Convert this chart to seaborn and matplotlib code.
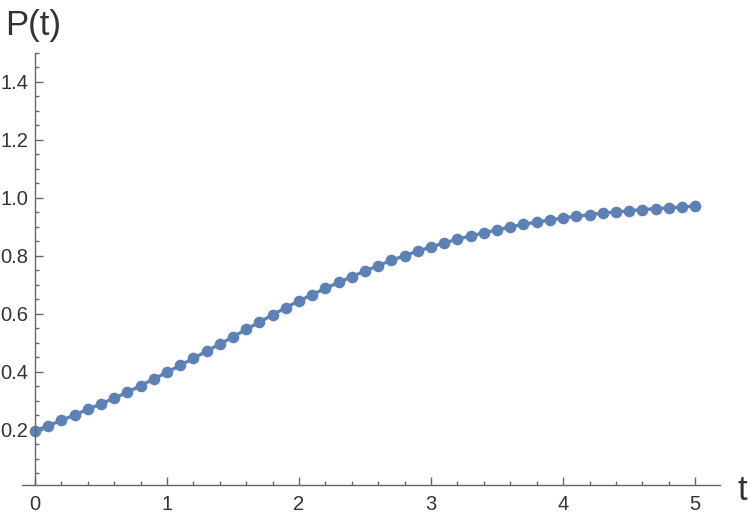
import matplotlib
matplotlib.use("Agg")
import matplotlib.pyplot as plt
from matplotlib.ticker import MultipleLocator
import seaborn as sns
import pandas as pd

# values
t = [0.0, 0.1, 0.2, 0.3, 0.4, 0.5, 0.6, 0.7, 0.8, 0.9,
     1.0, 1.1, 1.2, 1.3, 1.4, 1.5, 1.6, 1.7, 1.8, 1.9,
     2.0, 2.1, 2.2, 2.3, 2.4, 2.5, 2.6, 2.7, 2.8, 2.9,
     3.0, 3.1, 3.2, 3.3, 3.4, 3.5, 3.6, 3.7, 3.8, 3.9,
     4.0, 4.1, 4.2, 4.3, 4.4, 4.5, 4.6, 4.7, 4.8, 4.9, 5.0]
p = [0.197, 0.215, 0.233, 0.252, 0.271, 0.290, 0.310, 0.330, 0.353, 0.376,
     0.399, 0.423, 0.447, 0.472, 0.496, 0.521, 0.547, 0.572, 0.597, 0.622,
     0.645, 0.667, 0.688, 0.709, 0.729, 0.748, 0.767, 0.785, 0.801, 0.817,
     0.831, 0.845, 0.858, 0.869, 0.880, 0.890, 0.900, 0.909, 0.917, 0.924,
     0.931, 0.937, 0.942, 0.948, 0.952, 0.956, 0.960, 0.963, 0.966, 0.969, 0.972]
yticks = [0.2, 0.4, 0.6, 0.8, 1.0, 1.2, 1.4]
ylabels = ["0.2", "0.4", "0.6", "0.8", "1.0", "1.2", "1.4"]

df = pd.DataFrame({"t": t, "P": p})

sns.set_style("white")
plt.rcParams["font.family"] = ["Liberation Sans", "DejaVu Sans"]

fig = plt.figure(figsize=(7.5, 5.18), dpi=100)
ax = fig.add_axes([0.0293, 0.0637, 0.931, 0.834])

sns.lineplot(data=df, x="t", y="P", ax=ax, color="#5E81B5", marker="o",
             markersize=8.4, markeredgewidth=0, linewidth=2.4)

ax.set_xlim(-0.0985, 5.19)
ax.set_ylim(0.0103, 1.5)
ax.set_xlabel("")
ax.set_ylabel("")

ax.spines["left"].set_position(("data", 0))
ax.spines["right"].set_visible(False)
ax.spines["top"].set_visible(False)
for s in ("left", "bottom"):
    ax.spines[s].set_color("#666666")
    ax.spines[s].set_linewidth(1.0)

ax.xaxis.set_major_locator(MultipleLocator(1))
ax.xaxis.set_minor_locator(MultipleLocator(0.2))
ax.yaxis.set_minor_locator(MultipleLocator(0.05))
ax.set_yticks(yticks)
ax.set_yticklabels(ylabels)

ax.tick_params(which="both", direction="in", color="#666666", width=1.0,
               bottom=True, left=True, top=False, right=False,
               labelsize=14.5, labelcolor="#333333")
ax.tick_params(which="major", length=5.5)
ax.tick_params(which="minor", length=3.2)
ax.tick_params(axis="y", pad=5)
ax.tick_params(axis="x", pad=7)

fig.text(5 / 750, 1 - 35 / 518, "P(t)", fontsize=25, color="#333333",
         ha="left", va="baseline")
fig.text(742 / 750, 1 - 500 / 518, "t", fontsize=25, color="#333333",
         ha="center", va="baseline")

fig.savefig("out.png", dpi=100)
